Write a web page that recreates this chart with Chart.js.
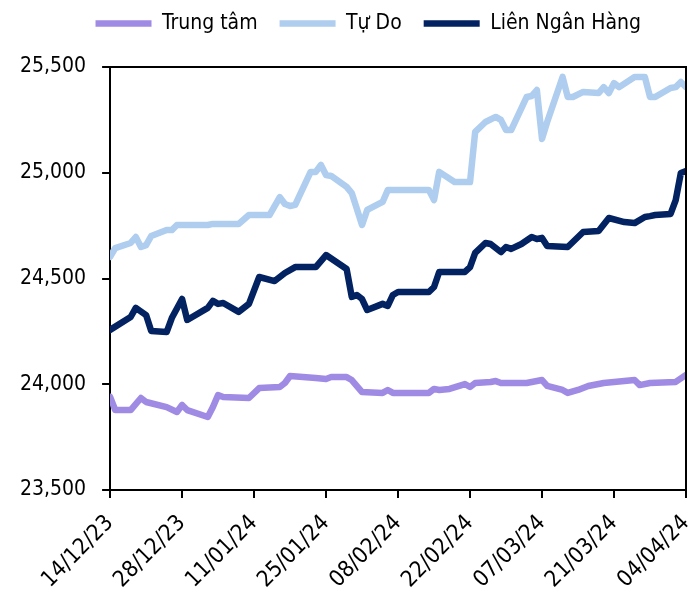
<!DOCTYPE html>
<html>
<head>
<meta charset="utf-8">
<script src="https://cdn.jsdelivr.net/npm/chart.js@4.4.1/dist/chart.umd.min.js"></script>
<style>
  html, body { margin: 0; padding: 0; background: #fff; }
</style>
</head>
<body>
<canvas id="tygia" width="695" height="592"></canvas>
<script>
// ngày tính từ 14/12/2023
var ngayGoc = Date.UTC(2023, 11, 14);

var ngayTrungTam = [0, 1, 4, 6, 7, 11, 13, 14, 15, 19, 20, 21, 22, 27, 29, 33, 34, 35, 40, 42,
    43, 46, 47, 49, 53, 54, 55, 62, 63, 64, 66, 69, 70, 71, 74, 75, 76, 81, 84, 85,
    88, 89, 91, 93, 96, 102, 103, 105, 110, 112];
var trungTam = [23940, 23878, 23878, 23935, 23916, 23892, 23869, 23902, 23878, 23845, 23892, 23949, 23940, 23935, 23982, 23987, 24006, 24039, 24030, 24025,
    24034, 24034, 24020, 23963, 23959, 23973, 23959, 23959, 23978, 23973, 23978, 24001, 23987, 24006, 24011, 24015, 24006, 24006, 24020, 23992,
    23973, 23959, 23973, 23992, 24006, 24020, 23996, 24006, 24011, 24044];

var ngayTuDo = [0, 1, 4, 5, 6, 7, 8, 11, 12, 13, 19, 20, 25, 27, 31, 33, 34, 35, 36, 39,
    40, 41, 42, 43, 46, 47, 49, 50, 53, 54, 62, 63, 64, 67, 70, 71, 73, 75, 76, 77,
    78, 81, 82, 83, 84, 85, 88, 89, 90, 92, 95, 96, 97, 98, 99, 102, 104, 105, 106, 109,
    110, 111, 112];
var tuDo = [24602, 24644, 24668, 24696, 24649, 24658, 24701, 24729, 24729, 24753, 24753, 24758, 24758, 24800, 24800, 24885, 24852, 24843, 24848, 25004,
    25004, 25037, 24989, 24985, 24933, 24904, 24753, 24824, 24862, 24918, 24918, 24871, 25004, 24956, 24956, 25193, 25240, 25264, 25250, 25202,
    25202, 25358, 25363, 25391, 25160, 25240, 25453, 25358, 25358, 25382, 25377, 25405, 25377, 25424, 25405, 25453, 25453, 25358, 25358, 25401,
    25405, 25429, 25405];

var ngayLNH = [0, 4, 5, 7, 8, 11, 12, 14, 15, 19, 20, 21, 22, 25, 27, 29, 32, 34, 36, 40,
    42, 44, 46, 47, 48, 49, 50, 53, 54, 55, 56, 62, 63, 64, 69, 70, 71, 73, 74, 76,
    77, 78, 80, 82, 83, 84, 85, 89, 92, 95, 97, 100, 102, 104, 105, 106, 109, 110, 111, 112];
var lienNganHang = [24257, 24318, 24361, 24327, 24252, 24247, 24313, 24403, 24304, 24361, 24394, 24380, 24384, 24342, 24380, 24507, 24488, 24526, 24554, 24554,
    24611, 24578, 24545, 24413, 24422, 24403, 24351, 24380, 24370, 24422, 24436, 24436, 24460, 24531, 24531, 24554, 24621, 24668, 24663, 24625,
    24649, 24640, 24663, 24696, 24687, 24692, 24654, 24649, 24720, 24725, 24786, 24767, 24762, 24791, 24795, 24800, 24805, 24871, 24999, 25008];

var tenDuong = ['Trung tâm', 'Tự Do', 'Liên Ngân Hàng'];
var mau = ['#a08be4', '#afcdee', '#022261'];

function ghepDiem(ngay, giaTri) {
    return ngay.map(function(d, i) {
        return { x: d, y: giaTri[i] };
    });
}

function nhanNgay(d) {
    var t = new Date(ngayGoc + d * 86400000);
    var dd = ('0' + t.getUTCDate()).slice(-2);
    var mm = ('0' + (t.getUTCMonth() + 1)).slice(-2);
    var yy = String(t.getUTCFullYear()).slice(-2);
    return dd + '/' + mm + '/' + yy;
}

// khung viền trên và phải của vùng vẽ
var khungVien = {
    id: 'khungVien',
    afterDatasetsDraw: function(chart) {
        var a = chart.chartArea;
        var ctx = chart.ctx;
        ctx.save();
        ctx.strokeStyle = '#000';
        ctx.lineWidth = 2;
        ctx.beginPath();
        ctx.moveTo(a.left, a.top);
        ctx.lineTo(a.right, a.top);
        ctx.lineTo(a.right, a.bottom);
        ctx.stroke();
        ctx.restore();
    }
};

// dời chú thích lên trên và sang trái một chút
var doiChuThich = {
    id: 'doiChuThich',
    afterLayout: function(chart) {
        var lg = chart.legend;
        lg.top -= 23;
        lg.bottom -= 23;
        lg.left -= 32;
        lg.right -= 32;
    }
};

Chart.defaults.font.family = "'DejaVu Sans Condensed', 'DejaVu Sans', sans-serif";
Chart.defaults.font.size = 21;
Chart.defaults.color = '#000';

var bo = [ghepDiem(ngayTrungTam, trungTam), ghepDiem(ngayTuDo, tuDo), ghepDiem(ngayLNH, lienNganHang)];

var config = {
    type: 'line',
    data: {
        datasets: bo.map(function(d, i) {
            return {
                label: tenDuong[i],
                data: d,
                borderColor: mau[i],
                backgroundColor: mau[i],
                borderWidth: 6.5,
                borderCapStyle: 'round',
                borderJoinStyle: 'round',
                pointRadius: 0,
                tension: 0
            };
        })
    },
    options: {
        responsive: false,
        animation: false,
        layout: {
            padding: { top: 14, right: 0, left: 4, bottom: 0 }
        },
        plugins: {
            legend: {
                position: 'top',
                align: 'end',
                labels: {
                    usePointStyle: true,
                    pointStyle: 'line',
                    pointStyleWidth: 56,
                    padding: 22,
                    font: { size: 21 }
                }
            },
            tooltip: { enabled: false }
        },
        scales: {
            x: {
                type: 'linear',
                min: 0,
                max: 112,
                border: { color: '#000', width: 2 },
                grid: { drawOnChartArea: false, color: '#000', tickLength: 8, lineWidth: 2 },
                ticks: {
                    stepSize: 14,
                    minRotation: 45,
                    maxRotation: 45,
                    padding: 12,
                    font: { size: 22.5 },
                    callback: function(v) { return nhanNgay(v); }
                },
                afterFit: function(s) {
                    s.height = 102;
                    s.paddingRight = 9;
                }
            },
            y: {
                min: 23500,
                max: 25500,
                border: { color: '#000', width: 2 },
                grid: { drawOnChartArea: false, color: '#000', tickLength: 8, lineWidth: 2 },
                ticks: {
                    stepSize: 500,
                    padding: 16,
                    callback: function(v) { return v.toLocaleString('en-US'); }
                }
            }
        }
    },
    plugins: [khungVien, doiChuThich]
};

var ctx = document.getElementById('tygia').getContext('2d');
window.bieuDo = new Chart(ctx, config);
</script>
</body>
</html>
